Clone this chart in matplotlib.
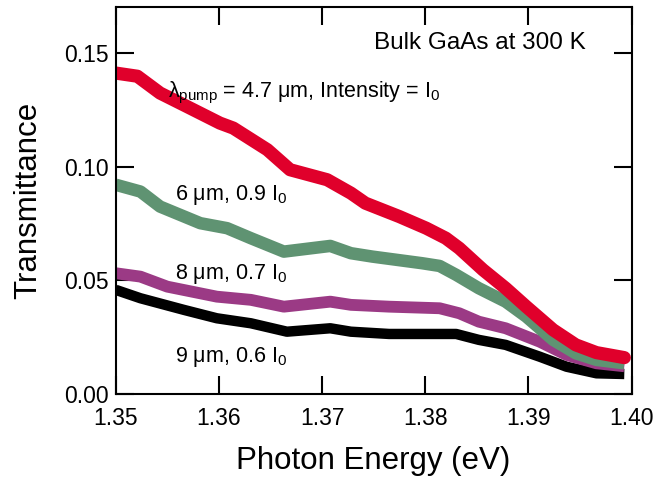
import matplotlib
matplotlib.use("Agg")
import matplotlib.pyplot as plt

plt.rcParams['font.family'] = ['Liberation Sans', 'DejaVu Sans']
plt.rcParams['mathtext.fontset'] = 'custom'
plt.rcParams['mathtext.rm'] = 'Liberation Sans'
plt.rcParams['mathtext.it'] = 'Liberation Sans'

# values
e_red = [1.35, 1.3521, 1.3543, 1.3569, 1.3601, 1.3614, 1.3647, 1.3669, 1.3705, 1.3728,
         1.3742, 1.3775, 1.3801, 1.382, 1.3833, 1.3856, 1.3878, 1.3898, 1.3924, 1.3946,
         1.3966, 1.3993]
t_red = [0.1411, 0.1397, 0.1323, 0.1264, 0.1191, 0.1169, 0.1074, 0.0986, 0.0942, 0.0883,
         0.0839, 0.078, 0.0729, 0.0685, 0.0641, 0.0546, 0.0465, 0.0384, 0.0282, 0.0216,
         0.0182, 0.0160]

e_green = [1.35, 1.3524, 1.3543, 1.3582, 1.3608, 1.3631, 1.3663, 1.3708, 1.3728, 1.3749,
           1.3797, 1.3814, 1.383, 1.3852, 1.3878, 1.3898, 1.3924, 1.3946, 1.3966, 1.3993]
t_green = [0.092, 0.089, 0.0824, 0.0751, 0.0729, 0.0685, 0.0626, 0.0651, 0.0619, 0.0604,
           0.0575, 0.0563, 0.0524, 0.0465, 0.0406, 0.034, 0.0238, 0.0179, 0.015, 0.0135]

e_purple = [1.35, 1.3524, 1.355, 1.3598, 1.3631, 1.3663, 1.3708, 1.3728, 1.3765, 1.3814,
            1.3833, 1.3852, 1.3878, 1.3911, 1.3937, 1.3966, 1.3993]
t_purple = [0.0531, 0.0516, 0.0472, 0.0428, 0.0414, 0.0384, 0.0406, 0.0392, 0.0384, 0.0377,
            0.0355, 0.0318, 0.0289, 0.023, 0.0172, 0.0135, 0.0122]

e_black = [1.35, 1.3524, 1.3566, 1.3598, 1.3631, 1.3666, 1.3708, 1.3728, 1.3765, 1.383,
           1.3852, 1.3878, 1.3911, 1.3937, 1.3966, 1.3993]
t_black = [0.0458, 0.0421, 0.037, 0.0333, 0.0311, 0.0274, 0.0289, 0.0274, 0.0264, 0.0264,
           0.0238, 0.0216, 0.0164, 0.012, 0.0091, 0.0088]

x_ticks = [1.35, 1.36, 1.37, 1.38, 1.39, 1.40]
y_ticks = [0.00, 0.05, 0.10, 0.15]

fig = plt.figure(figsize=(6.68, 4.78), dpi=100)
ax = fig.add_axes([0.1732, 0.1757, 0.7722, 0.809])

ax.plot(e_black, t_black, color='black', lw=7.5, solid_capstyle='butt')
ax.plot(e_purple, t_purple, color='#9b3a85', lw=8.5, solid_capstyle='butt')
ax.plot(e_green, t_green, color='#5f9372', lw=9, solid_capstyle='butt')
ax.plot(e_red, t_red, color='#e0002b', lw=9.5, solid_capstyle='round')

ax.set_xlim(1.35, 1.40)
ax.set_ylim(0.0, 0.17)
ax.set_xticks(x_ticks)
ax.set_xticklabels(['%.2f' % v for v in x_ticks])
ax.set_yticks(y_ticks)
ax.set_yticklabels(['%.2f' % v for v in y_ticks])
ax.tick_params(direction='in', length=13, width=1.5, labelsize=16.5,
               top=True, right=True)
ax.tick_params(axis='x', pad=9)
ax.tick_params(axis='y', pad=5)
for s in ax.spines.values():
    s.set_linewidth(1.5)

ax.set_xlabel('Photon Energy (eV)', fontsize=22.5, labelpad=12)
ax.set_ylabel('Transmittance', fontsize=22.5, labelpad=15)

ax.text(0.912, 0.909, 'Bulk GaAs at 300 K', transform=ax.transAxes,
        fontsize=17.5, ha='right', va='center')
ax.text(1.3551, 0.1305, r'$\lambda_{\mathrm{pump}}$ = 4.7 $\mu$m, Intensity = I$_0$',
        fontsize=15.5, ha='left', va='baseline')
ax.text(1.3557, 0.0855, r'6 $\mu$m, 0.9 I$_0$', fontsize=15.5, ha='left', va='baseline')
ax.text(1.3557, 0.0504, r'8 $\mu$m, 0.7 I$_0$', fontsize=15.5, ha='left', va='baseline')
ax.text(1.3557, 0.0139, r'9 $\mu$m, 0.6 I$_0$', fontsize=15.5, ha='left', va='baseline')

fig.savefig('out.png', dpi=100)
